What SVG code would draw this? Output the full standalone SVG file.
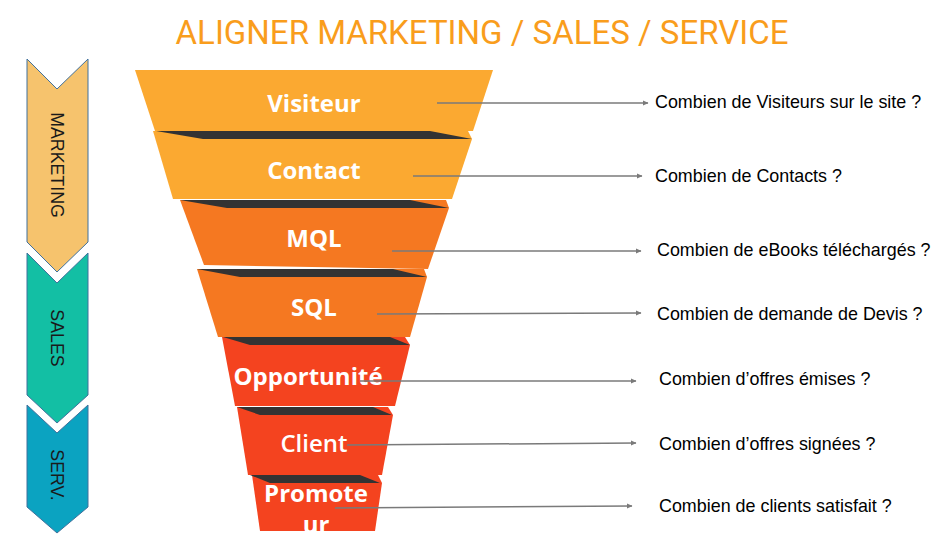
<svg xmlns="http://www.w3.org/2000/svg" width="943" height="535" viewBox="0 0 943 535">
<defs>
<marker id="ah" markerWidth="6" markerHeight="6" refX="5" refY="3" orient="auto" markerUnits="userSpaceOnUse">
<path d="M0,0.5 L5.5,3 L0,5.5 Z" fill="#7a7a7a"/>
</marker>
</defs>
<style>
.lbl{font-family:"Open Sans","DejaVu Sans",sans-serif;font-weight:bold;font-size:24px;fill:#fff;text-anchor:middle}
.q{font-family:"Liberation Sans",Arial,sans-serif;font-size:17.9px;fill:#000}
.side{font-family:"Liberation Sans",Arial,sans-serif;font-size:17.8px;fill:#1a1a1a;text-anchor:middle}
.fold{fill:#333333}
.y{fill:#FBA931}
.o{fill:#F57821}
.r{fill:#F4431F}
.chev{stroke:#41719C;stroke-width:1}
.conn{stroke:#7a7a7a;stroke-width:1.5;fill:none;marker-end:url(#ah)}
</style>
<rect width="943" height="535" fill="#fff"/>
<text x="482" y="44" font-family="Roboto,'Liberation Sans',sans-serif" font-size="33" fill="#F99D1C" text-anchor="middle">ALIGNER MARKETING / SALES / SERVICE</text>

<g id="phase-marketing">
<polygon class="chev" fill="#F6C36D" points="27,59 57,89 88,59 88,242 57,272 27,242"/>
<text class="side" transform="translate(57,165) rotate(90)" dy="6">MARKETING</text>
</g>
<g id="phase-sales">
<polygon class="chev" fill="#13BFA4" points="27,253 57,283 88,253 88,395 57,423 27,395"/>
<text class="side" transform="translate(57,338) rotate(90)" dy="6">SALES</text>
</g>
<g id="phase-serv">
<polygon class="chev" fill="#0BA3C1" points="27,405 57,433 88,405 88,507 57,533 27,507"/>
<text class="side" transform="translate(57,475) rotate(90)" dy="6">SERV.</text>
</g>

<g id="band-visiteur">
<polygon class="y" points="135,70 493,70 473,131 155,131"/>
<text class="lbl" x="314" y="112">Visiteur</text>
</g>
<g id="band-contact">
<polygon class="y" points="153,131 468,131 472,139 452,199 173,199"/>
<polygon class="fold" points="156,131 430,131 472,139 203,139"/>
<text class="lbl" x="314" y="179">Contact</text>
</g>
<g id="band-mql">
<polygon class="o" points="180,200 446,200 449,208 428,269 204,265"/>
<polygon class="fold" points="180,200 410,200 449,208 227,208"/>
<text class="lbl" x="314" y="247">MQL</text>
</g>
<g id="band-sql">
<polygon class="o" points="197,269 424,269 427,277 410,337 218,337"/>
<polygon class="fold" points="197,269 393,269 427,277 240,277"/>
<text class="lbl" x="314" y="316">SQL</text>
</g>
<g id="band-opportunite">
<polygon class="r" points="222,337 405,337 410,345 395,406 235,406"/>
<polygon class="fold" points="223,337 390,337 410,345 250,345"/>
<text class="lbl" x="308" y="385">Opportunité</text>
</g>
<g id="band-client">
<polygon class="r" points="237,407 388,407 393,415 382,475 248,475"/>
<polygon class="fold" points="237,407 373,407 392,415 260,415"/>
<text class="lbl" x="314" y="452" style="font-weight:600">Client</text>
</g>
<g id="band-promoteur">
<polygon class="r" points="252,475 378,475 382,483 375,531 260,531"/>
<polygon class="fold" points="250,475 360,475 380,483 270,483"/>
<text class="lbl" x="316" y="502">Promote</text>
<text class="lbl" x="316" y="533">ur</text>
</g>

<g id="connectors">
<line class="conn" x1="437" y1="103" x2="648" y2="103"/>
<line class="conn" x1="413" y1="176" x2="642" y2="176"/>
<line class="conn" x1="392" y1="251" x2="641" y2="251"/>
<line class="conn" x1="377" y1="314" x2="641" y2="313"/>
<line class="conn" x1="360" y1="381" x2="636" y2="381"/>
<line class="conn" x1="347" y1="445" x2="636" y2="443"/>
<line class="conn" x1="335" y1="508" x2="632" y2="506"/>
</g>

<g id="questions">
<text class="q" x="655" y="108">Combien de Visiteurs sur le site ?</text>
<text class="q" x="655" y="182">Combien de Contacts ?</text>
<text class="q" x="657" y="256">Combien de eBooks téléchargés ?</text>
<text class="q" x="657" y="320">Combien de demande de Devis ?</text>
<text class="q" x="659" y="385">Combien d’offres émises ?</text>
<text class="q" x="659" y="450">Combien d’offres signées ?</text>
<text class="q" x="659" y="512">Combien de clients satisfait ?</text>
</g>
</svg>
